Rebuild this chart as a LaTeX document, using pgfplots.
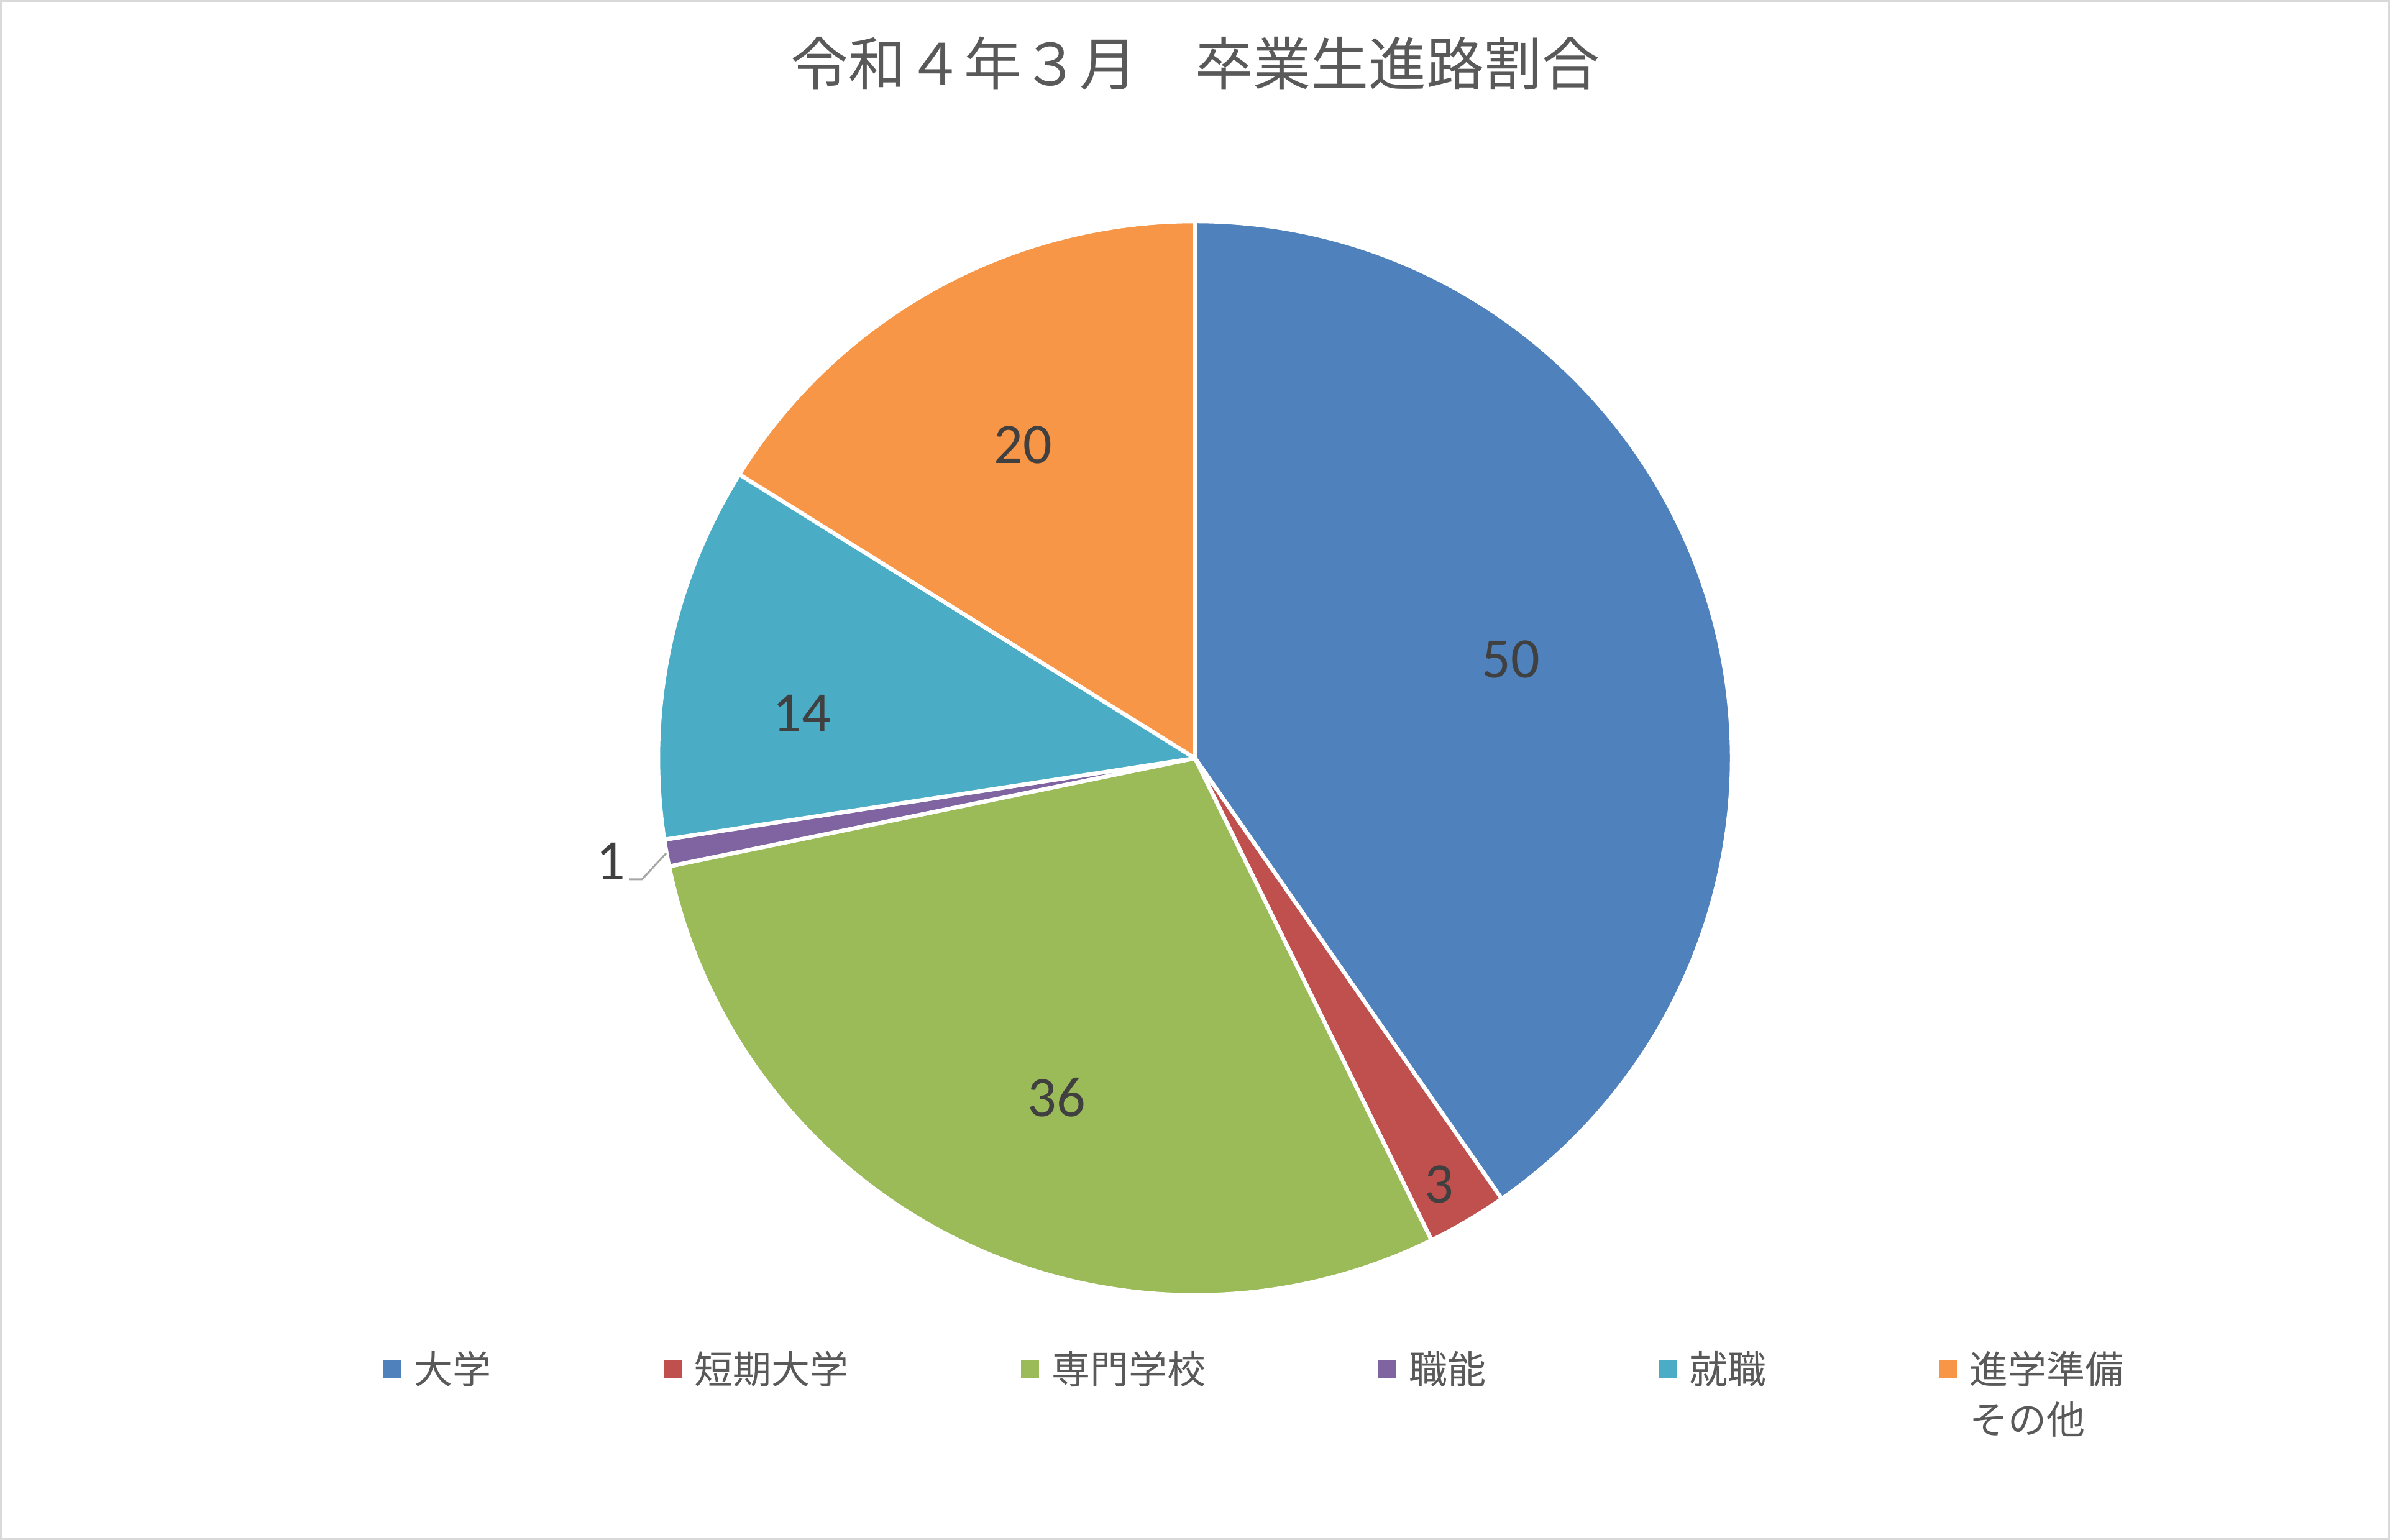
\documentclass[border=0pt]{standalone}
\usepackage{fontspec}
\setmainfont{Noto Sans CJK JP}
\newfontfamily\numfont{Carlito}
\usepackage{pgfplots}
\usepackage{pgfplotstable}
\pgfplotsset{compat=1.18}

\definecolor{col0}{HTML}{4F81BD}
\definecolor{col1}{HTML}{C0504D}
\definecolor{col2}{HTML}{9BBB59}
\definecolor{col3}{HTML}{8064A2}
\definecolor{col4}{HTML}{4BACC6}
\definecolor{col5}{HTML}{F79646}
\definecolor{labeltext}{HTML}{404040}
\definecolor{softtext}{HTML}{595959}
\definecolor{framegray}{HTML}{D9D9D9}
\definecolor{leader}{HTML}{A6A6A6}

% value, and where its label sits (image pixels, y up)
\pgfplotstableread{
value lx ly
50 2431 1417
3 2316 572
36 1700 712
1 983 1092
14 1290 1330
20 1646 1762
}\shares

\begin{document}
\begin{tikzpicture}
\begin{axis}[
  x=0.2pt, y=0.2pt,
  xmin=0, xmax=3846, ymin=0, ymax=2478,
  hide axis, clip=false,
  legend columns=6,
  legend image code/.code={\fill[#1, draw=none] (0pt,1.8pt) rectangle (5.8pt,7.6pt);},
  legend style={at={(axis cs:617,308)}, anchor=north west, draw=none, fill=none,
    inner sep=0pt, outer sep=0pt,
    font=\fontsize{12.4pt}{16.2pt}\selectfont, text=softtext,
    cells={anchor=base west},
    nodes={inner sep=0pt},
    /tikz/every odd column/.append style={column sep=4.1pt},
    /tikz/every even column/.append style={column sep=55.5pt}},
]
\draw[framegray, line width=0.6pt] (axis cs:1.5,1.5) rectangle (axis cs:3844.5,2476.5);
\node[font=\fontsize{18.6pt}{22pt}\selectfont, text=softtext] at (axis cs:1923,2376) {令和４年３月　卒業生進路割合};

\pgfplotsextra{%
  \pgfplotstablegetrowsof{\shares}\pgfmathtruncatemacro\last{\pgfplotsretval-1}%
  \gdef\total{0}%
  \foreach \i in {0,...,\last}{%
    \pgfplotstablegetelem{\i}{value}\of\shares
    \pgfmathsetmacro\newtotal{\total+\pgfplotsretval}\xdef\total{\newtotal}}%
  \gdef\startang{90}%
  \foreach \i in {0,...,\last}{%
    \pgfplotstablegetelem{\i}{value}\of\shares
    \pgfmathsetmacro\endang{\startang-\pgfplotsretval/\total*360}%
    \filldraw[fill=col\i, draw=white, line width=1.3pt, line join=round]
      (axis cs:1923,1258) -- ++(\startang:172.8pt)
      arc[start angle=\startang, end angle=\endang, radius=172.8pt] -- cycle;
    \xdef\startang{\endang}}%
}

\addplot[only marks, mark=none, forget plot, nodes near coords, point meta=explicit symbolic,
  nodes near coords style={anchor=center, font=\numfont\fontsize{18.4pt}{22pt}\selectfont, text=labeltext}]
  table[x=lx, y=ly, meta=value] {\shares};
\addplot[leader, line width=0.6pt, forget plot] coordinates {(1012,1063) (1033,1063) (1072,1105)};

\addlegendimage{fill=col0}\addlegendentry{大学}
\addlegendimage{fill=col1}\addlegendentry{短期大学}
\addlegendimage{fill=col2}\addlegendentry{専門学校}
\addlegendimage{fill=col3}\addlegendentry{職能}
\addlegendimage{fill=col4}\addlegendentry{就職}
\addlegendimage{fill=col5}\addlegendentry{\begin{tabular}[t]{@{}l@{}}進学準備\\その他\end{tabular}}
\end{axis}
\end{tikzpicture}
\end{document}
